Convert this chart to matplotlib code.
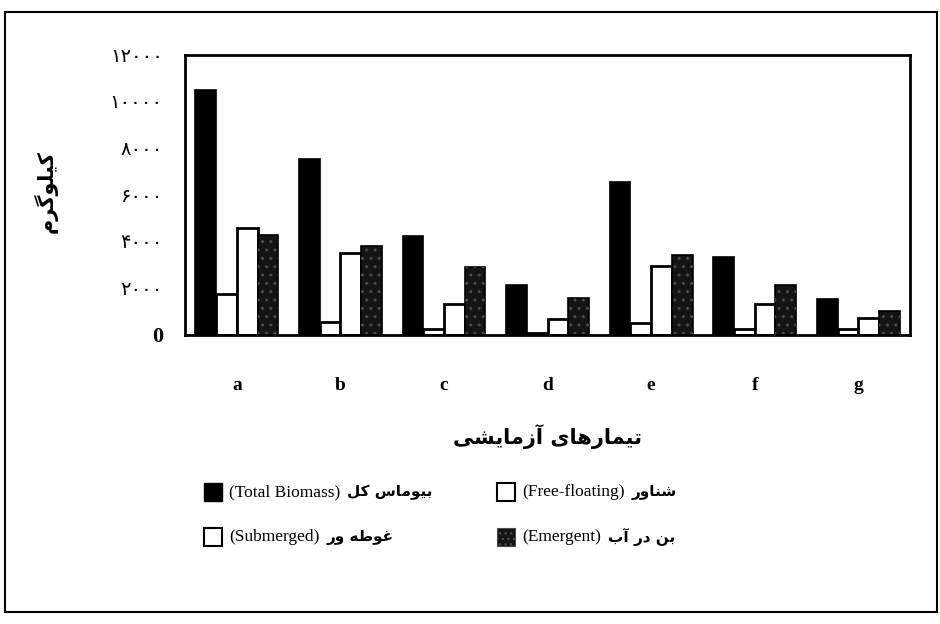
import matplotlib
matplotlib.use("Agg")
import matplotlib.pyplot as plt
from matplotlib.patches import Rectangle
from matplotlib.offsetbox import AnchoredOffsetbox, DrawingArea, HPacker, TextArea
import numpy as np

treatments = ["a", "b", "c", "d", "e", "f", "g"]
total_biomass = [10500, 7550, 4250, 2150, 6550, 3350, 1550]
free_floating = [1750, 550, 250, 100, 500, 250, 250]
submerged = [4600, 3500, 1350, 700, 2950, 1350, 750]
emergent = [4300, 3800, 2900, 1600, 3450, 2150, 1050]

y_ticks = [0, 2000, 4000, 6000, 8000, 10000, 12000]
y_tick_labels = ["0", "۲۰۰۰", "۴۰۰۰", "۶۰۰۰", "۸۰۰۰", "۱۰۰۰۰", "۱۲۰۰۰"]

legend_en = ["(Total Biomass)", "(Free-floating)", "(Submerged)", "(Emergent)"]
legend_fa = ["بیوماس کل", "شناور", "غوطه ور", "بن در آب"]

# (isolated, final, initial, medial) presentation forms
FORMS = {
    "ا": ("\uFE8D", "\uFE8E", None, None),
    "آ": ("\uFE81", "\uFE82", None, None),
    "د": ("\uFEA9", "\uFEAA", None, None),
    "ر": ("\uFEAD", "\uFEAE", None, None),
    "ز": ("\uFEAF", "\uFEB0", None, None),
    "و": ("\uFEED", "\uFEEE", None, None),
    "ب": ("\uFE8F", "\uFE90", "\uFE91", "\uFE92"),
    "ت": ("\uFE95", "\uFE96", "\uFE97", "\uFE98"),
    "س": ("\uFEB1", "\uFEB2", "\uFEB3", "\uFEB4"),
    "ش": ("\uFEB5", "\uFEB6", "\uFEB7", "\uFEB8"),
    "ط": ("\uFEC1", "\uFEC2", "\uFEC3", "\uFEC4"),
    "غ": ("\uFECD", "\uFECE", "\uFECF", "\uFED0"),
    "ل": ("\uFEDD", "\uFEDE", "\uFEDF", "\uFEE0"),
    "م": ("\uFEE1", "\uFEE2", "\uFEE3", "\uFEE4"),
    "ن": ("\uFEE5", "\uFEE6", "\uFEE7", "\uFEE8"),
    "ه": ("\uFEE9", "\uFEEA", "\uFEEB", "\uFEEC"),
    "ک": ("\uFB8E", "\uFB8F", "\uFB90", "\uFB91"),
    "گ": ("\uFB92", "\uFB93", "\uFB94", "\uFB95"),
    "ی": ("\uFBFC", "\uFBFD", "\uFBFE", "\uFBFF"),
}


def fa(text):
    """Shape Persian letters and return them in visual (left-to-right) order."""
    out = []
    for i, ch in enumerate(text):
        if ch not in FORMS:
            out.append(ch)
            continue
        prev = text[i - 1] if i > 0 else ""
        nxt = text[i + 1] if i + 1 < len(text) else ""
        dual = FORMS[ch][2] is not None
        j_prev = prev in FORMS and FORMS[prev][2] is not None
        j_next = dual and nxt in FORMS
        if j_prev and j_next:
            out.append(FORMS[ch][3])
        elif j_prev:
            out.append(FORMS[ch][1])
        elif j_next:
            out.append(FORMS[ch][2])
        else:
            out.append(FORMS[ch][0])
    return "".join(reversed(out))


FAMILY = ["Liberation Serif", "DejaVu Sans"]
EMERGENT_FACE = "#141414"
EMERGENT_DOTS = "#4a4a4a"

fig = plt.figure(figsize=(9.4, 6.24), dpi=100)
ax = fig.add_axes([185 / 940, 1 - 335 / 624, 725 / 940, 280 / 624])

x = np.arange(len(treatments))
w = 0.2
ax.bar(x - 1.5 * w, total_biomass, w, color="black", edgecolor="black", linewidth=1.2)
ax.bar(x - 0.5 * w, free_floating, w, color="white", edgecolor="black", linewidth=2)
ax.bar(x + 0.5 * w, submerged, w, color="white", edgecolor="black", linewidth=2)
ax.bar(x + 1.5 * w, emergent, w, color=EMERGENT_FACE, edgecolor="black", linewidth=1.2)
ax.bar(x + 1.5 * w, emergent, w, color="none", edgecolor=EMERGENT_DOTS, linewidth=0, hatch="..")

ax.set_xlim(-0.5, len(treatments) - 0.5)
ax.set_ylim(0, 12000)
ax.set_yticks(y_ticks)
ax.set_yticklabels(y_tick_labels, fontsize=14, family=FAMILY)
ax.get_yticklabels()[0].set_fontsize(16)
ax.get_yticklabels()[0].set_fontweight("bold")
ax.set_xticks(x)
ax.set_xticklabels(treatments, fontsize=14, fontweight="bold", family="Liberation Serif")
ax.tick_params(axis="y", length=0, pad=16)
ax.tick_params(axis="x", length=0, pad=30)
for s in ax.spines.values():
    s.set_linewidth(2)

ax.set_xlabel(fa("تیمارهای آزمایشی"), fontsize=15, fontweight="bold", family="DejaVu Sans", labelpad=22)
fig.text(46 / 940, 1 - 192 / 624, fa("کیلوگرم"), rotation=90, fontsize=15,
         fontweight="bold", family="DejaVu Sans", ha="center", va="center")

# legend laid out by hand: square, English (regular serif), Persian (bold)
styles = [
    dict(facecolor="black", edgecolor="black"),
    dict(facecolor="white", edgecolor="black", linewidth=1.5),
    dict(facecolor="white", edgecolor="black", linewidth=1.5),
    dict(facecolor=EMERGENT_FACE, edgecolor=EMERGENT_DOTS, hatch="...", linewidth=0.8),
]
anchors = [(204, 492), (497, 492), (204, 537), (497, 537)]
for en, fa_txt, st, (px, py) in zip(legend_en, legend_fa, styles, anchors):
    da = DrawingArea(13, 13, 0, 0)
    da.add_artist(Rectangle((0, 0), 13, 13, **st))
    t_en = TextArea(en, textprops=dict(family="Liberation Serif", size=12.5))
    t_fa = TextArea(fa(fa_txt), textprops=dict(family="DejaVu Sans", size=11, weight="bold"))
    box = HPacker(children=[da, t_en, t_fa], sep=5, align="center", pad=0)
    ab = AnchoredOffsetbox(loc="center left", child=box, pad=0, borderpad=0, frameon=False,
                           bbox_to_anchor=(px / 940, 1 - py / 624),
                           bbox_transform=fig.transFigure)
    fig.add_artist(ab)

fig.add_artist(Rectangle((5 / 940, 1 - 612 / 624), 932 / 940, 600 / 624,
                         transform=fig.transFigure, fill=False, edgecolor="black", linewidth=1.5))

fig.savefig("out.png", dpi=100)
